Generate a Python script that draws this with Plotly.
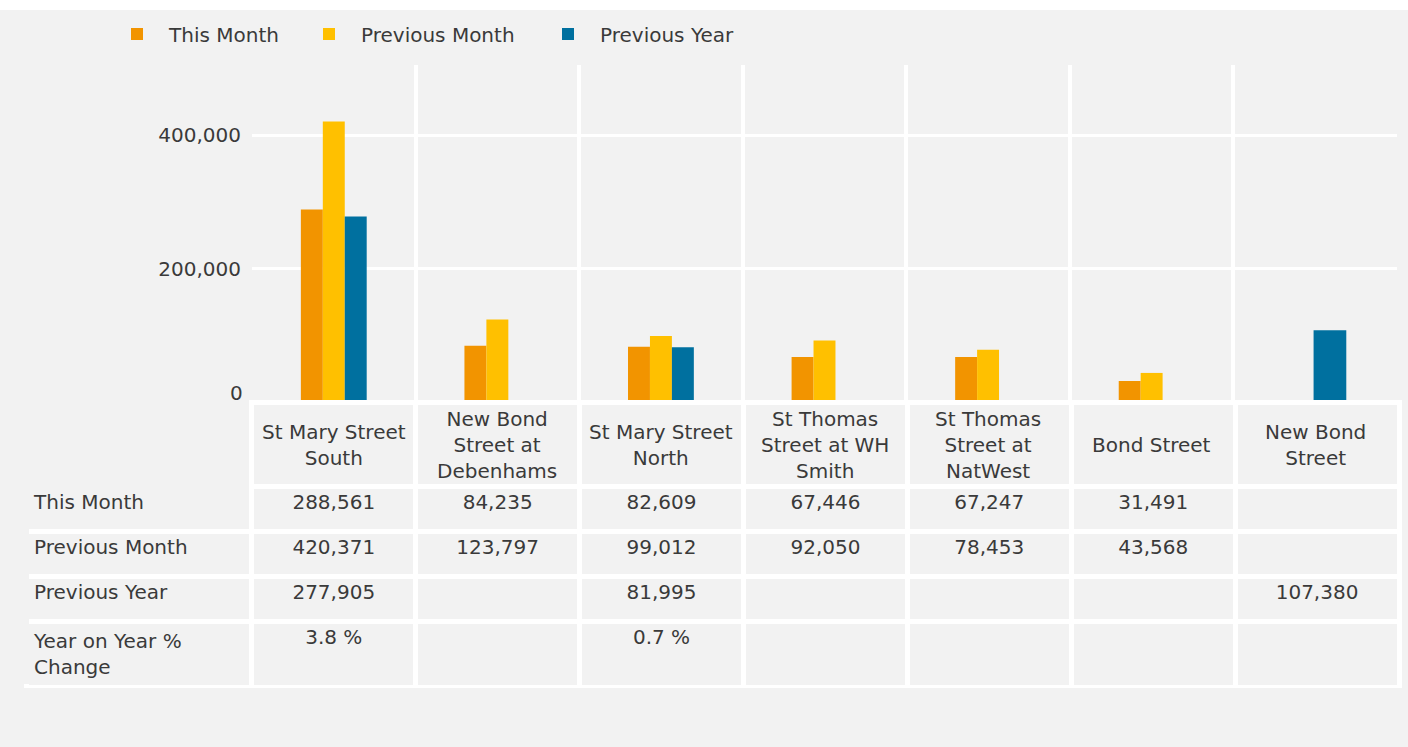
import plotly.graph_objects as go

categories = ["St Mary Street South", "New Bond Street at Debenhams", "St Mary Street North",
              "St Thomas Street at WH Smith", "St Thomas Street at NatWest", "Bond Street",
              "New Bond Street"]
header_labels = ["St Mary Street<br>South", "New Bond<br>Street at<br>Debenhams",
                 "St Mary Street<br>North", "St Thomas<br>Street at WH<br>Smith",
                 "St Thomas<br>Street at<br>NatWest", "Bond Street", "New Bond<br>Street"]
this_month = [288561, 84235, 82609, 67446, 67247, 31491, None]
previous_month = [420371, 123797, 99012, 92050, 78453, 43568, None]
previous_year = [277905, None, 81995, None, None, None, 107380]
yoy_change = [3.8, None, 0.7, None, None, None, None]
row_labels = ["This Month", "Previous Month", "Previous Year", "Year on Year %<br>Change"]
y_ticks = [0, 200000, 400000]

BG = "#f2f2f2"
FONT = "DejaVu Sans"
TXT = "#3a3a3a"
C_THIS = "#f29400"
C_PREV = "#ffc000"
C_YEAR = "#00709f"

TOP = 10          # page offset of the figure (white strip above)
W, H = 1408, 737
n = len(categories)
x = list(range(n))


def px(v):  # page x -> paper
    return v / W


def py(v):  # page y -> paper
    return 1 - (v - TOP) / H


def fmt(v):
    return "" if v is None else f"{v:,}"


def fmt_pct(v):
    return "" if v is None else f"{v:.1f} %"


slot = 22 / 164.0
fig = go.Figure()
fig.add_trace(go.Bar(x=x, y=this_month, name="This Month", marker_color=C_THIS,
                     offset=-1.5 * slot, width=slot, marker_line_width=0, legend="legend"))
fig.add_trace(go.Bar(x=x, y=previous_month, name="Previous Month", marker_color=C_PREV,
                     offset=-0.5 * slot, width=slot, marker_line_width=0, legend="legend2"))
py_offset = [0.5 * slot] * (n - 1) + [-0.01]
py_width = [slot] * (n - 1) + [0.2]
fig.add_trace(go.Bar(x=x, y=previous_year, name="Previous Year", marker_color=C_YEAR,
                     offset=py_offset, width=py_width, marker_line_width=0, legend="legend3"))

# table body
col_vals = [row_labels]
for i in range(n):
    col_vals.append([fmt(this_month[i]), fmt(previous_month[i]), fmt(previous_year[i]),
                     fmt_pct(yoy_change[i])])

fig.add_trace(go.Table(
    domain=dict(x=[px(26), px(1399)], y=[py(688), py(402)]),
    columnwidth=[226] + [164] * n,
    header=dict(values=[""] * (n + 1),
                fill_color=BG,
                line=dict(color=[BG] + ["white"] * n, width=5),
                height=84,
                font=dict(family=FONT, size=20, color=TXT)),
    cells=dict(values=col_vals,
               fill_color=BG,
               line=dict(color="white", width=5),
               align=["left"] + ["center"] * n,
               height=45,
               font=dict(family=FONT, size=20, color=TXT)),
))

# header labels, centred in the header cells
annotations = []
for i, lab in enumerate(header_labels):
    annotations.append(dict(x=x[i], xref="x", y=py(445), yref="paper", text=lab,
                            showarrow=False, xanchor="center", yanchor="middle",
                            align="center", font=dict(family=FONT, size=20, color=TXT)))
# zero tick label sits above the baseline
annotations.append(dict(x=px(245), xref="paper", y=y_ticks[0], yref="y", yshift=9,
                        text=f"{y_ticks[0]:,}", showarrow=False, xanchor="right",
                        yanchor="middle", font=dict(family=FONT, size=20, color=TXT)))

leg_common = dict(orientation="h", yanchor="middle", xanchor="left", itemwidth=54,
                  font=dict(family=FONT, size=20, color=TXT), bgcolor="rgba(0,0,0,0)")

fig.update_layout(
    width=W, height=H,
    margin=dict(l=0, r=0, t=0, b=0),
    paper_bgcolor=BG, plot_bgcolor=BG,
    barmode="overlay",
    font=dict(family=FONT, size=20, color=TXT),
    showlegend=True,
    legend=dict(x=px(105), y=py(34), **leg_common),
    legend2=dict(x=px(297), y=py(34), **leg_common),
    legend3=dict(x=px(536), y=py(34), **leg_common),
    xaxis=dict(domain=[px(252), px(1397)], range=[-0.5, n - 0.5],
               tickvals=[i - 0.5 for i in range(n + 1)],
               showticklabels=False, showgrid=True, gridcolor="white", gridwidth=4,
               zeroline=False, showline=False, ticks=""),
    yaxis=dict(domain=[py(402), py(65)], range=[0, 505000],
               tickvals=y_ticks, ticktext=[""] + [f"{v:,}" for v in y_ticks[1:]],
               showgrid=True, gridcolor="white", gridwidth=3,
               zeroline=True, zerolinecolor="white", zerolinewidth=3,
               ticks="outside", ticklen=6, tickcolor="rgba(0,0,0,0)",
               tickfont=dict(family=FONT, size=20, color=TXT)),
    annotations=annotations,
    shapes=[dict(type="rect", xref="paper", yref="paper", layer="above",
                 x0=px(22), x1=px(29), y0=py(684), y1=py(489),
                 fillcolor=BG, line=dict(width=0))],
)

fig.write_html("out.html", post_script="document.body.style.margin='%dpx 0 0 0';" % TOP)
